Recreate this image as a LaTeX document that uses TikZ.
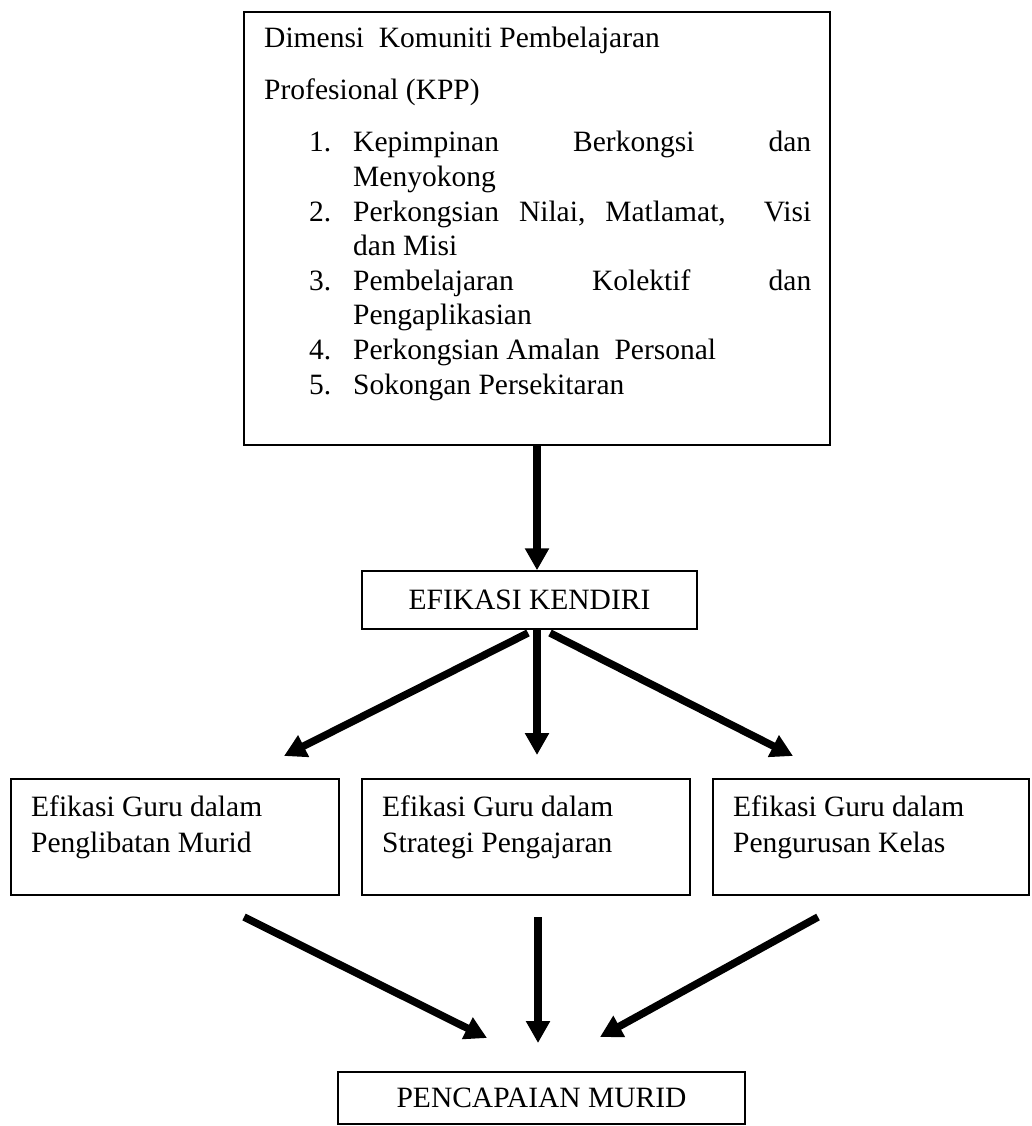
\documentclass[tikz,border=0pt]{standalone}
\usepackage{fontspec}
\setmainfont{Liberation Serif}
\usetikzlibrary{arrows.meta}
\begin{document}
\begin{tikzpicture}[x=1pt,y=-1pt,
  box/.style={draw=black, line width=1.5pt, inner sep=0pt},
  txt/.style={anchor=base west, inner sep=0pt, font=\fontsize{29.5}{34}\selectfont},
  ctxt/.style={font=\fontsize{29.5}{34}\selectfont},
  big/.style={line width=7.5pt, -{Triangle[length=22pt,width=23pt]}},
]
\useasboundingbox (0,0) rectangle (1032,1126);

% top box
\node[box, minimum width=586pt, minimum height=433pt] (kpp) at (537,228.5) {};
\node[txt] (t1) at (264,48) {Dimensi\ \ Komuniti Pembelajaran};
\node[txt] (t2) at (264,100) {Profesional (KPP)};
\node[txt] (n1) at (309,152) {1.};
\node[txt] (n2) at (309,221) {2.};
\node[txt] (n3) at (309,290) {3.};
\node[txt] (n4) at (309,359) {4.};
\node[txt] (n5) at (309,394) {5.};
\node[txt] (i1a) at (353,152) {\hbox to 458pt{Kepimpinan\hfill Berkongsi\hfill dan}};
\node[txt] (i1b) at (353,186) {Menyokong};
\node[txt] (i2a) at (353,221) {\hbox to 458pt{Perkongsian\hspace{20pt}Nilai,\hspace{20pt}Matlamat,\hfill Visi}};
\node[txt] (i2b) at (353,255) {dan Misi};
\node[txt] (i3a) at (353,290) {\hbox to 458pt{Pembelajaran\hfill Kolektif\hfill dan}};
\node[txt] (i3b) at (353,324) {Pengaplikasian};
\node[txt] (i4) at (353,359) {Perkongsian Amalan\ \ Personal};
\node[txt] (i5) at (353,394) {Sokongan Persekitaran};

% middle box
\node[box, ctxt, minimum width=335pt, minimum height=58pt] (ek) at (529.5,600) {EFIKASI KENDIRI};

% bottom-row boxes
\node[box, minimum width=328pt, minimum height=116pt] (b1) at (175,837) {};
\node[box, minimum width=328pt, minimum height=116pt] (b2) at (526,837) {};
\node[box, minimum width=316pt, minimum height=116pt] (b3) at (871,837) {};
\node[txt] (b1a) at (31,816) {Efikasi Guru dalam};
\node[txt] (b1b) at (31,852) {Penglibatan Murid};
\node[txt] (b2a) at (382,816) {Efikasi Guru dalam};
\node[txt] (b2b) at (382,852) {Strategi Pengajaran};
\node[txt] (b3a) at (733,816) {Efikasi Guru dalam};
\node[txt] (b3b) at (733,852) {Pengurusan Kelas};

% final box
\node[box, ctxt, minimum width=407pt, minimum height=52pt] (pm) at (541.5,1098) {PENCAPAIAN MURID};

% connector end points
\coordinate (sL) at (528,633);
\coordinate (eL) at (284,756);
\coordinate (sC) at (537,629);
\coordinate (eC) at (537,755);
\coordinate (sR) at (550,633);
\coordinate (eR) at (793,756);
\coordinate (uL) at (244,917);
\coordinate (vL) at (487,1038);
\coordinate (uC) at (538,917);
\coordinate (vC) at (538,1043);
\coordinate (uR) at (818,917);
\coordinate (vR) at (600,1037);

% connectors
\draw[big] (kpp.south) -- (kpp.south |- ek.north);
\draw[big] (sL) -- (eL);
\draw[big] (sC) -- (eC);
\draw[big] (sR) -- (eR);
\draw[big] (uL) -- (vL);
\draw[big] (uC) -- (vC);
\draw[big] (uR) -- (vR);
\end{tikzpicture}
\end{document}
